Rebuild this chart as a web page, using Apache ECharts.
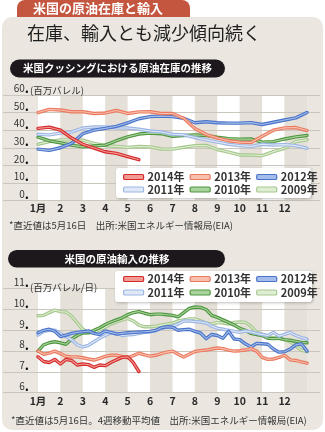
<!DOCTYPE html>
<html><head><meta charset="utf-8">
<script src="https://cdn.jsdelivr.net/npm/echarts@6/dist/echarts.min.js"></script>
<style>
html,body{margin:0;padding:0;background:#fff;}
#panel{position:absolute;left:2px;top:17px;width:321px;height:413px;border-radius:10px;background:#ebe7e0;}
#c{position:absolute;left:0;top:0;width:325px;height:432px;}
</style>
</head><body><div id="panel"></div><div id="c"></div>
<script>
const FONT = '"Noto Sans CJK JP", "Noto Sans", sans-serif';
const yearNames = ['2014年', '2013年', '2012年', '2011年', '2010年', '2009年'];
const outerColors = ['#d42a2a', '#ea7a5f', '#4a74c9', '#9cb5e3', '#4f9640', '#a5c78c'];
const innerColors = ['#f29a94', '#f9bfae', '#a3bcea', '#dfe8f7', '#a9d39c', '#dfedd3'];
const monthLabels = ['1月', '2', '3', '4', '5', '6', '7', '8', '9', '10', '11', '12'];

// Chart 1: Cushing crude stocks (million barrels), x = month position
const stockMonths = [1, 1.5, 2, 2.5, 3, 3.5, 4, 4.5, 5, 5.5, 6, 6.5, 7, 7.5, 8, 8.5, 9, 9.5, 10, 10.5, 11, 11.5, 12, 12.5, 13];
const stock2014 = [41, 41.7, 40, 35.5, 32, 29.8, 27.7, 26.8, 25, 23.2];
const stock2013 = [50, 51.8, 51.5, 50.5, 50.5, 49.5, 49.8, 51.2, 49.5, 50.4, 50.5, 49.5, 49.5, 46.8, 41, 37.5, 35.5, 34, 33.2, 33, 36.5, 40, 41.3, 41.5, 39.8];
const stock2012 = [29.2, 28.5, 30, 32.5, 38, 40, 41, 42.2, 44.2, 46.5, 47.7, 48, 47.7, 46.8, 44.2, 44.8, 44.2, 44, 44, 44.3, 43.2, 44.5, 45.8, 47, 50];
const stock2011 = [37.7, 37.3, 38.3, 39, 41.2, 41.8, 41.8, 41.3, 41.2, 40.5, 39.5, 39, 37.7, 37.3, 35.8, 34.5, 33.2, 32, 31.2, 30.8, 32, 31.6, 31.8, 31.2, 29.7];
const stock2010 = [36, 34, 32.8, 31.5, 30.5, 31, 31.5, 34, 36.2, 37.8, 38.3, 38, 36.5, 37, 37.3, 37, 36, 35.2, 34.9, 35, 33.2, 33.5, 35, 36.2, 37];
const stock2009 = [32, 33.5, 34.5, 34.5, 34.3, 32.5, 31.3, 30.8, 30.2, 30.7, 30.5, 29.3, 29.2, 30.3, 31.2, 31.3, 29, 27.5, 25.9, 25.9, 25.5, 27.8, 29.7, 33.5, 34.5];

// Chart 2: US crude imports, 4-week average (million barrels/day)
const importMonths = [1, 1.25, 1.5, 1.75, 2, 2.25, 2.5, 2.75, 3, 3.25, 3.5, 3.75, 4, 4.25, 4.5, 4.75, 5, 5.25, 5.5, 5.75, 6, 6.25, 6.5, 6.75, 7, 7.25, 7.5, 7.75, 8, 8.25, 8.5, 8.75, 9, 9.25, 9.5, 9.75, 10, 10.25, 10.5, 10.75, 11, 11.25, 11.5, 11.75, 12, 12.25, 12.5, 12.75, 13];
const import2014 = [7.73, 7.5, 7.45, 7.6, 7.38, 7.6, 7.55, 7.33, 7.38, 7.35, 7.22, 7.33, 7.3, 7.45, 7.58, 7.7, 7.72, 7.45, 7.02];
const import2013 = [8.0, 7.85, 7.9, 8.0, 7.88, 7.75, 7.72, 7.72, 7.68, 7.62, 7.57, 7.65, 7.75, 7.8, 7.8, 7.75, 7.68, 7.78, 7.9, 7.82, 7.76, 7.8, 7.88, 7.95, 8.0, 7.85, 7.72, 7.85, 7.98, 8.02, 8.05, 8.1, 8.15, 8.12, 8.05, 8.0, 8.02, 8.05, 8.12, 8.0, 7.7, 7.6, 7.62, 7.7, 7.8, 7.58, 7.55, 7.48, 7.42];
const import2012 = [8.88, 9.0, 9.05, 8.95, 8.7, 8.77, 8.85, 8.9, 8.93, 8.97, 8.85, 8.8, 8.97, 8.9, 8.82, 8.85, 8.88, 8.9, 8.92, 8.93, 8.95, 9.0, 9.12, 9.17, 9.15, 9.0, 9.03, 9.05, 8.95, 8.87, 8.6, 8.8, 8.75, 8.62, 8.95, 8.58, 8.55, 8.35, 8.2, 8.37, 8.35, 8.33, 8.1, 7.95, 7.97, 8.1, 8.3, 8.35, 8.0];
const import2011 = [8.77, 8.95, 9.0, 9.0, 8.85, 8.7, 8.55, 8.3, 8.2, 8.28, 8.45, 8.62, 8.75, 8.88, 8.85, 8.75, 8.78, 8.8, 8.85, 8.9, 8.92, 8.98, 9.08, 9.15, 9.2, 9.3, 9.45, 9.45, 9.42, 9.4, 9.35, 9.2, 9.1, 9.05, 9.0, 8.95, 8.9, 8.97, 8.92, 8.85, 8.8, 8.75, 8.9, 8.72, 8.8, 8.9, 8.75, 8.65, 8.57];
const import2010 = [8.0, 8.3, 8.4, 8.45, 8.4, 8.33, 8.58, 8.75, 8.87, 8.88, 9.0, 9.12, 9.28, 9.4, 9.5, 9.6, 9.75, 9.85, 9.9, 9.82, 9.75, 9.78, 9.78, 9.75, 9.72, 9.65, 9.85, 10.05, 10.12, 10.1, 10.0, 9.72, 9.62, 9.5, 9.38, 9.25, 9.1, 9.0, 8.85, 8.8, 8.75, 8.62, 8.6, 8.62, 8.55, 8.52, 8.47, 8.42, 8.4];
const import2009 = [9.7, 9.72, 9.85, 9.97, 9.9, 9.88, 9.68, 9.35, 9.05, 8.88, 8.88, 9.02, 9.15, 9.3, 9.4, 9.5, 9.57, 9.45, 9.25, 9.17, 9.17, 9.2, 9.25, 9.3, 9.35, 9.45, 9.5, 9.55, 9.55, 9.45, 9.35, 9.3, 9.38, 9.35, 9.3, 9.38, 9.4, 9.38, 9.2, 8.9, 8.8, 8.7, 8.65, 8.6, 8.55, 8.45, 8.25, 8.05, 7.97];

const stockSeries = [stock2014, stock2013, stock2012, stock2011, stock2010, stock2009];
const importSeries = [import2014, import2013, import2012, import2011, import2010, import2009];

function pairs(xs, ys) { return ys.map((v, i) => [xs[i], v]); }

const chart = echarts.init(document.getElementById('c'), null, {renderer: 'canvas'});

const GRID1 = {top: 95, height: 105.5};
const GRID2 = {top: 288.7, height: 104};

function bgXAxis(g) { return {gridIndex: g, type: 'value', min: 0, max: 1, show: false}; }
function monthXAxis(g, margin) {
  return {
    gridIndex: g, type: 'value', min: 1, max: 13, interval: 1,
    axisLine: {show: false}, axisTick: {show: false}, splitLine: {show: false},
    splitArea: {show: true, areaStyle: {color: ['#ffffff', '#e5e1d8']}},
    axisLabel: {
      margin: margin, color: '#2a2a2a', fontSize: 10.5, fontWeight: 'bold', fontFamily: FONT,
      formatter: v => (v >= 1 && v <= 12) ? monthLabels[v - 1] : ''
    }, z: 0
  };
}
function gridYAxis(g, min, max, interval) {
  return {
    gridIndex: g, type: 'value', min, max, interval,
    axisLine: {show: false}, axisTick: {show: false}, axisLabel: {show: false},
    splitLine: {show: true, lineStyle: {color: '#cbc6bd', width: 1}}, z: 1
  };
}
function labelYAxis(g, min, max, interval) {
  return {
    gridIndex: g, type: 'value', min, max, interval,
    axisLine: {show: false}, axisTick: {show: false}, splitLine: {show: false},
    axisLabel: {
      margin: 9, verticalAlign: 'bottom', fontFamily: FONT,
      formatter: v => '{n|' + v + '}{d|.}',
      rich: {
        n: {fontSize: 10, color: '#333', fontFamily: FONT},
        d: {fontSize: 13, fontWeight: 'bold', color: '#111', fontFamily: FONT}
      }
    }
  };
}

const series = [];
for (let k = 5; k >= 0; k--) {
  [[stockMonths, stockSeries[k], 1], [importMonths, importSeries[k], 3]].forEach(([xs, ys, ax]) => {
    series.push({
      type: 'line', name: yearNames[k], xAxisIndex: ax, yAxisIndex: ax,
      data: pairs(xs, ys), symbol: 'none', silent: true, z: 3,
      lineStyle: {color: outerColors[k], width: 3.4, join: 'round', cap: 'round'},
      itemStyle: {color: outerColors[k]}
    });
    series.push({
      type: 'line', name: yearNames[k], xAxisIndex: ax, yAxisIndex: ax,
      data: pairs(xs, ys), symbol: 'none', silent: true, z: 3,
      lineStyle: {color: innerColors[k], width: 1.1, join: 'round', cap: 'round'},
      itemStyle: {color: outerColors[k]}
    });
  });
}

function legendRow(idx, left, top) {
  return {
    data: idx.map(k => ({name: yearNames[k], icon: 'roundRect',
      itemStyle: {color: innerColors[k], borderColor: outerColors[k], borderWidth: 1.2}})),
    left, top, orient: 'horizontal', itemWidth: 20, itemHeight: 5, itemGap: 5,
    padding: 0, selectedMode: false, z: 10,
    textStyle: {fontSize: 11, fontWeight: 'bold', color: '#333', fontFamily: FONT, padding: [0, 0, 0, -1]}
  };
}

const option = {
  animation: false,
  grid: [
    {left: 3, right: 5, top: GRID1.top, height: GRID1.height},
    {left: 38, right: 18, top: GRID1.top, height: GRID1.height},
    {left: 3, right: 5, top: GRID2.top, height: GRID2.height},
    {left: 38, right: 18, top: GRID2.top, height: GRID2.height}
  ],
  xAxis: [bgXAxis(0), monthXAxis(1, 2), bgXAxis(2), monthXAxis(3, 3)],
  yAxis: [gridYAxis(0, 0, 60, 10), labelYAxis(1, 0, 60, 10), gridYAxis(2, 6, 11, 1), labelYAxis(3, 6, 11, 1)],
  legend: [
    legendRow([0, 1, 2], 123, 171.5),
    legendRow([3, 4, 5], 123, 184),
    legendRow([0, 1, 2], 123, 273.5),
    legendRow([3, 4, 5], 123, 287)
  ],
  series,
  graphic: [
    {type: 'rect', z: 1, shape: {x: 17, y: 0, width: 173, height: 17, r: [8, 8, 0, 0]}, style: {fill: '#c4563f'}},
    {type: 'text', z: 2, style: {text: '米国の原油在庫と輸入', x: 33, y: 8.5, verticalAlign: 'middle', font: 'bold 13px ' + FONT, fill: '#ffffff'}},
    {type: 'text', z: 2, style: {text: '在庫、輸入とも減少傾向続く', x: 27, y: 33.5, verticalAlign: 'middle', font: '18px ' + FONT, fill: '#1e1e1e'}},
    {type: 'rect', z: 1, shape: {x: 10, y: 59.5, width: 215, height: 18, r: 9}, style: {fill: '#1d181c'}},
    {type: 'text', z: 2, style: {text: '米国クッシングにおける原油在庫の推移', x: 117.5, y: 68.5, align: 'center', verticalAlign: 'middle', font: 'bold 10.5px ' + FONT, fill: '#ffffff'}},
    {type: 'text', z: 2, style: {text: '(百万バレル)', x: 30, y: 90, verticalAlign: 'middle', font: '9.5px ' + FONT, fill: '#333'}},
    {type: 'rect', z: 5, shape: {x: 116, y: 168, width: 195, height: 30, r: 3}, style: {fill: '#ffffff', shadowBlur: 3, shadowColor: 'rgba(0,0,0,0.25)', shadowOffsetX: 1, shadowOffsetY: 1}},
    {type: 'text', z: 2, style: {text: '*直近値は5月16日　出所:米国エネルギー情報局(EIA)', x: 9, y: 225, verticalAlign: 'middle', font: '9.5px ' + FONT, fill: '#333'}},
    {type: 'rect', z: 1, shape: {x: 8, y: 250, width: 217, height: 17.5, r: 9}, style: {fill: '#1d181c'}},
    {type: 'text', z: 2, style: {text: '米国の原油輸入の推移', x: 117, y: 258.7, align: 'center', verticalAlign: 'middle', font: 'bold 10.5px ' + FONT, fill: '#ffffff'}},
    {type: 'text', z: 2, style: {text: '(百万バレル/日)', x: 30, y: 287, verticalAlign: 'middle', font: '9.5px ' + FONT, fill: '#333'}},
    {type: 'rect', z: 5, shape: {x: 115, y: 271, width: 197, height: 31, r: 3}, style: {fill: '#ffffff', shadowBlur: 3, shadowColor: 'rgba(0,0,0,0.25)', shadowOffsetX: 1, shadowOffsetY: 1}},
    {type: 'text', z: 2, style: {text: '*直近値は5月16日。4週移動平均値　出所:米国エネルギー情報局(EIA)', x: 11, y: 420, verticalAlign: 'middle', font: '9.5px ' + FONT, fill: '#333'}}
  ]
};
chart.setOption(option);
</script>
</body></html>
